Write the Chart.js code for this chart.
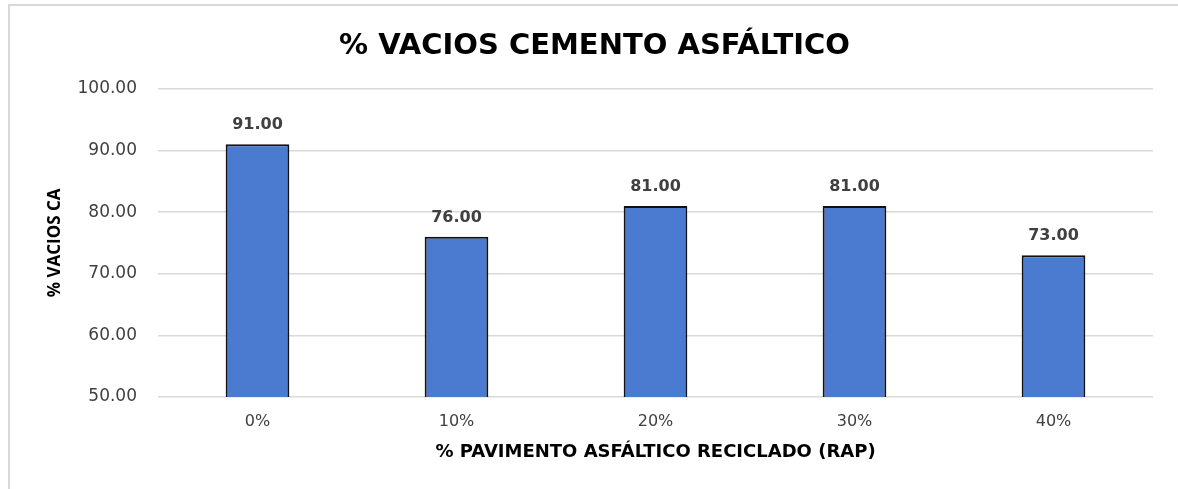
<!DOCTYPE html>
<html>
<head>
<meta charset="utf-8">
<script src="https://cdn.jsdelivr.net/npm/chart.js@4/dist/chart.umd.min.js"></script>
<style>
  html, body { margin: 0; padding: 0; background: #fff; }
  #frame {
    position: absolute; left: 8px; top: 4px; width: 1170px; height: 485px;
    border-top: 2px solid #d9d9d9; border-left: 2px solid #d9d9d9;
  }
  #chart { position: absolute; left: 0; top: 0; }
</style>
</head>
<body>
<div id="frame"></div>
<canvas id="chart" width="1178" height="489"></canvas>
<script>
const categories = ['0%', '10%', '20%', '30%', '40%'];
const vaciosCA = [91.00, 76.00, 81.00, 81.00, 73.00];
const yTicks = [50, 60, 70, 80, 90, 100];

const wideFont = '"DejaVu Sans", sans-serif';
const narrowFont = '"Open Sans", sans-serif';

// values written over each bar
const barLabels = {
    id: 'barLabels',
    afterDatasetsDraw(chart) {
        const ctx = chart.ctx;
        const meta = chart.getDatasetMeta(0);
        ctx.save();
        ctx.font = 'bold 16px ' + wideFont;
        ctx.fillStyle = '#404040';
        ctx.textAlign = 'center';
        ctx.textBaseline = 'bottom';
        meta.data.forEach((bar, i) => {
            ctx.fillText(vaciosCA[i].toFixed(2), bar.x, bar.y - 11);
        });
        ctx.restore();
    }
};

const ctx = document.getElementById('chart').getContext('2d');
new Chart(ctx, {
    type: 'bar',
    data: {
        labels: categories,
        datasets: [{
            data: vaciosCA,
            backgroundColor: '#4a7bd0',
            borderColor: '#111',
            borderWidth: 2,
            categoryPercentage: 1,
            barPercentage: 0.32
        }]
    },
    options: {
        responsive: false,
        animation: false,
        layout: { padding: { left: 36, right: 25, top: 0, bottom: 26 } },
        plugins: {
            legend: { display: false },
            tooltip: { enabled: false },
            title: {
                display: true,
                text: '% VACIOS CEMENTO ASFÁLTICO',
                color: '#000',
                font: { family: wideFont, size: 29, weight: 'bold' },
                padding: { top: 29, bottom: 25 }
            }
        },
        scales: {
            x: {
                afterFit(scale) {
                    scale.height = 66;
                },
                grid: { display: false, drawTicks: false },
                border: { display: false },
                ticks: { color: '#404040', font: { family: wideFont, size: 16 }, padding: 15 },
                title: {
                    display: true,
                    text: '% PAVIMENTO ASFÁLTICO RECICLADO (RAP)',
                    color: '#000',
                    font: { family: wideFont, size: 18, weight: 'bold' },
                    padding: { top: 0, bottom: 0 }
                }
            },
            y: {
                min: 50,
                max: 100,
                afterBuildTicks(scale) {
                    scale.ticks = yTicks.map(v => ({ value: v }));
                },
                afterFit(scale) {
                    scale.width = 122;
                },
                grid: { color: '#d9d9d9', lineWidth: 1.5, drawTicks: false },
                border: { display: false },
                ticks: {
                    color: '#404040',
                    font: { family: wideFont, size: 17 },
                    padding: 21,
                    callback: v => v.toFixed(2)
                },
                title: {
                    display: true,
                    text: '% VACIOS CA',
                    color: '#000',
                    font: { family: narrowFont, size: 17, weight: 'bold' },
                    padding: { top: 9, bottom: 11 }
                }
            }
        }
    },
    plugins: [barLabels]
});
</script>
</body>
</html>
